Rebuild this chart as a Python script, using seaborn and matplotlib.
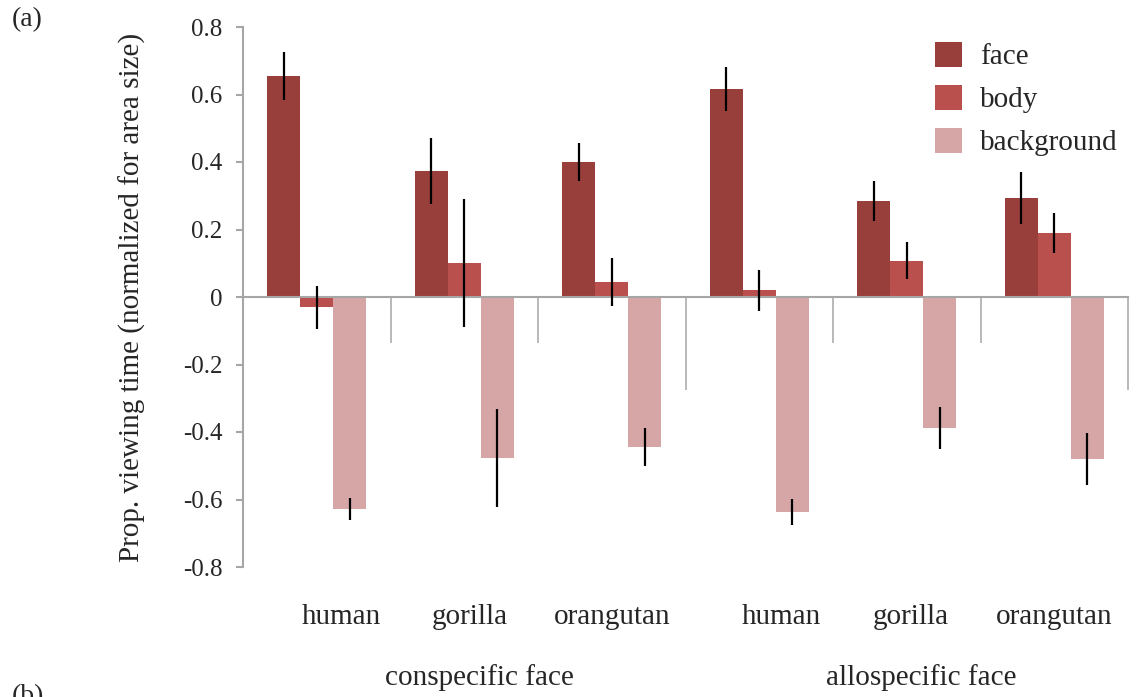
import numpy as np
import pandas as pd
import matplotlib
matplotlib.use("Agg")
import matplotlib.pyplot as plt
import seaborn as sns

# ---- data ----
categories = ["human", "gorilla", "orangutan", "human ", "gorilla ", "orangutan "]
cat_labels = ["human", "gorilla", "orangutan", "human", "gorilla", "orangutan"]
groups = ["conspecific face", "allospecific face"]
areas = ["face", "body", "background"]
face_vals = [0.655, 0.373, 0.400, 0.616, 0.284, 0.293]
body_vals = [-0.030, 0.100, 0.044, 0.020, 0.107, 0.190]
bg_vals = [-0.628, -0.477, -0.444, -0.637, -0.388, -0.480]
face_err = [0.071, 0.098, 0.055, 0.065, 0.060, 0.078]
body_err = [0.064, 0.190, 0.071, 0.060, 0.055, 0.060]
bg_err = [0.033, 0.145, 0.056, 0.038, 0.061, 0.078]
yticks = [0.8, 0.6, 0.4, 0.2, 0, -0.2, -0.4, -0.6, -0.8]
ytick_labels = ["0.8", "0.6", "0.4", "0.2", "0", "-0.2", "-0.4", "-0.6", "-0.8"]

colors = ["#983F3C", "#B9504E", "#D6A6A6"]
gray = "#A6A6A6"

rows = []
for i, c in enumerate(categories):
    for a, vals, errs in zip(areas, [face_vals, body_vals, bg_vals], [face_err, body_err, bg_err]):
        rows.append({"cat": c, "area": a, "value": vals[i], "err": errs[i]})
df = pd.DataFrame(rows)

sns.set_theme(style="white")
plt.rcParams["font.family"] = ["Liberation Serif", "DejaVu Serif"]
plt.rcParams["axes.unicode_minus"] = False

fig = plt.figure(figsize=(11.39, 6.97), dpi=100)
ax = fig.add_axes([243 / 1139, 1 - 567 / 697, (1128 - 243) / 1139, (567 - 27) / 697])

sns.barplot(data=df, x="cat", y="value", hue="area", hue_order=areas, order=categories,
            palette=colors, width=0.67, errorbar=None, saturation=1, ax=ax,
            linewidth=0)

# error bars from patch positions
for cont, a in zip(ax.containers, areas):
    sub = df[df["area"] == a].set_index("cat").loc[categories]
    xs = [p.get_x() + p.get_width() / 2 for p in cont.patches]
    ax.errorbar(xs, sub["value"].values, yerr=sub["err"].values, fmt="none",
                ecolor="black", elinewidth=1.6, capsize=0, zorder=5)

ax.set_xlim(-0.5, 5.5)
ax.set_ylim(-0.8, 0.8)
ax.set_yticks(yticks)
ax.set_yticklabels(ytick_labels, fontsize=18)
ax.set_ylabel("Prop. viewing time (normalized for area size)", fontsize=21)
ax.yaxis.set_label_coords(-0.11, 0.5)
ax.set_xlabel("")

for s in ["top", "right"]:
    ax.spines[s].set_visible(False)
ax.spines["left"].set_color(gray)
ax.spines["left"].set_linewidth(1.5)
ax.spines["bottom"].set_position(("data", 0))
ax.spines["bottom"].set_color(gray)
ax.spines["bottom"].set_linewidth(1.5)

ax.tick_params(axis="y", direction="out", length=5, width=1.5, color=gray, left=True, pad=10)
ax.set_xticks([2.5, 5.5])
ax.set_xticks([0.5, 1.5, 3.5, 4.5], minor=True)
ax.set_xticklabels(["", ""])
ax.tick_params(axis="x", which="major", direction="out", length=67, width=1.1, color=gray, bottom=True)
ax.tick_params(axis="x", which="minor", direction="out", length=33, width=1.1, color=gray, bottom=True)

# category labels below the axes
label_offsets = [0.17, 0.04, 0.0, 0.15, 0.03, 0.0]
for i, (lab, off) in enumerate(zip(cat_labels, label_offsets)):
    ax.text(i + off, -0.093, lab, transform=ax.get_xaxis_transform(), ha="center", va="center",
            fontsize=21)
for j, g in enumerate(groups):
    ax.text(1.1 + 3 * j, -0.205, g, transform=ax.get_xaxis_transform(), ha="center", va="center",
            fontsize=21)

leg = ax.legend(loc="upper left", bbox_to_anchor=(935 / 1139, 1 - 42 / 697),
                bbox_transform=fig.transFigure, frameon=False, fontsize=21,
                handlelength=0.93, handleheight=0.93, labelspacing=0.5, handletextpad=0.62,
                borderpad=0, borderaxespad=0)

fig.text(12 / 1139, 1 - 20 / 697, "(a)", fontsize=20, ha="left", va="center")
fig.text(12 / 1139, 1 - 684 / 697, "(b)", fontsize=20, ha="left", va="top")

fig.savefig("out.png", dpi=100)
